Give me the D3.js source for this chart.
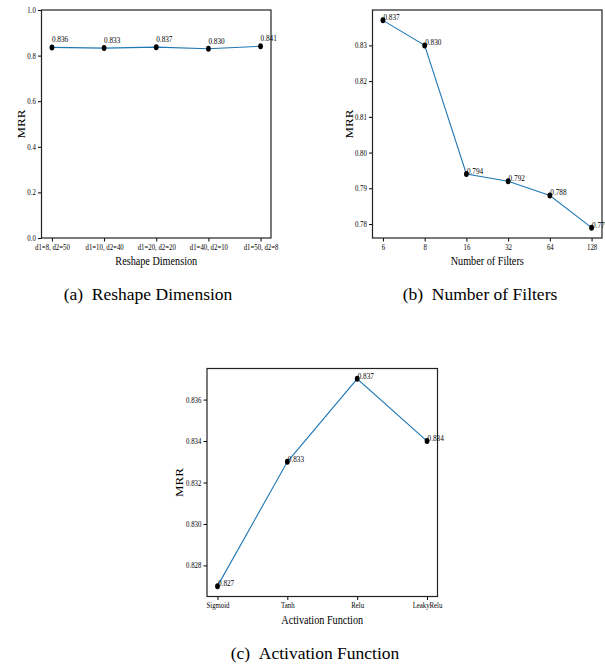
<!DOCTYPE html>
<html>
<head>
<meta charset="utf-8">
<script src="https://cdn.jsdelivr.net/npm/d3@7"></script>
<style>
  body { margin: 0; background: #fff; }
  svg { display: block; }
</style>
</head>
<body>
<div id="container"></div>
<script>
// data
var reshapeCats = ["d1=8, d2=50", "d1=10, d2=40", "d1=20, d2=20", "d1=40, d2=10", "d1=50, d2=8"];
var reshapeMRR = [0.836, 0.833, 0.837, 0.830, 0.841];
var reshapeTicks = [0.0, 0.2, 0.4, 0.6, 0.8, 1.0];

var filterCats = ["6", "8", "16", "32", "64", "128"];
var filterMRR = [0.837, 0.830, 0.794, 0.792, 0.788, 0.779];
var filterTicks = [0.78, 0.79, 0.80, 0.81, 0.82, 0.83];

var actCats = ["Sigmoid", "Tanh", "Relu", "LeakyRelu"];
var actMRR = [0.827, 0.833, 0.837, 0.834];
var actTicks = [0.828, 0.830, 0.832, 0.834, 0.836];

var width = 605, height = 664;
var serif = '"Liberation Serif", "Times New Roman", serif';
var squeeze = 0.85; // the figure is squeezed horizontally

var svg = d3.select("#container")
  .append("svg")
  .attr("width", width)
  .attr("height", height);

// draws one matplotlib-like panel
function drawPanel(opt) {
  var box = opt.box;
  var g = svg.append("g");

  // categorical x with matplotlib's 5% margins
  var n = opt.cats.length;
  var step = (box.right - box.left) / ((n - 1) * 1.1);
  var x = d3.scalePoint()
    .domain(opt.cats)
    .range([box.left + step * (n - 1) * 0.05, box.right - step * (n - 1) * 0.05])
    .padding(0);

  var yDomain = opt.yDomain;
  if (!yDomain) {
    var lo = d3.min(opt.values), hi = d3.max(opt.values), pad = (hi - lo) * 0.05;
    yDomain = [lo - pad, hi + pad];
  }
  var y = d3.scaleLinear().domain(yDomain).range([box.bottom, box.top]);

  // axes
  var xAxis = g.append("g")
    .attr("transform", "translate(0," + box.bottom + ")")
    .call(d3.axisBottom(x).tickSize(3.5).tickPadding(2.5))
    .attr("font-family", serif)
    .attr("font-size", 8)
    .call(function(s) { s.select(".domain").remove(); });
  xAxis.selectAll(".tick text").attr("transform", "scale(" + squeeze + ",1)");

  var yAxis = g.append("g")
    .attr("transform", "translate(" + box.left + ",0)")
    .call(d3.axisLeft(y).tickValues(opt.ticks).tickFormat(d3.format(opt.fmt)).tickSize(3.5).tickPadding(2))
    .attr("font-family", serif)
    .attr("font-size", 8)
    .call(function(s) { s.select(".domain").remove(); });
  yAxis.selectAll(".tick text").attr("transform", "translate(-1,0) scale(" + squeeze + ",1)");

  g.selectAll(".tick line").attr("stroke", "#000").attr("stroke-width", 1);
  g.selectAll(".tick text").attr("fill", "#000");

  // frame
  g.append("rect")
    .attr("x", box.left).attr("y", box.top)
    .attr("width", box.right - box.left).attr("height", box.bottom - box.top)
    .attr("fill", "none").attr("stroke", "#222").attr("stroke-width", 1.2);

  var line = d3.line()
    .x(function(d, i) { return x(opt.cats[i]); })
    .y(function(d) { return y(d); });

  g.append("path")
    .datum(opt.values)
    .attr("d", line)
    .attr("fill", "none")
    .attr("stroke", "#1f77b4")
    .attr("stroke-width", 1.1);

  g.selectAll("ellipse.pt")
    .data(opt.values)
    .enter().append("ellipse")
    .attr("class", "pt")
    .attr("cx", function(d, i) { return x(opt.cats[i]); })
    .attr("cy", function(d) { return y(d); })
    .attr("rx", 2.4).attr("ry", 3)
    .attr("fill", "#000");

  g.selectAll("text.val")
    .data(opt.values)
    .enter().append("text")
    .attr("class", "val")
    .attr("transform", function(d, i) {
      return "translate(" + (x(opt.cats[i]) + opt.labelDx) + "," + (y(d) + opt.labelDy) + ") scale(" + squeeze + ",1)";
    })
    .attr("fill", "#000")
    .style("font-family", serif)
    .style("font-size", "8.5px")
    .text(function(d) { return d3.format(".3f")(d); });

  // axis labels
  g.append("text")
    .attr("transform", "translate(" + ((box.left + box.right) / 2) + "," + (box.bottom + 27) + ") scale(" + squeeze + ",1)")
    .attr("text-anchor", "middle")
    .style("font-family", serif)
    .style("font-size", "12px")
    .text(opt.xlabel);

  g.append("text")
    .attr("transform", "translate(" + (box.left - opt.ylabelOff) + "," + ((box.top + box.bottom) / 2) + ") scale(" + squeeze + ",1) rotate(-90)")
    .attr("text-anchor", "middle")
    .style("font-family", serif)
    .style("font-size", "13px")
    .text("MRR");

  // caption: "(a)" then a wider gap
  g.append("text")
    .attr("x", opt.captionX)
    .attr("y", opt.captionY)
    .attr("text-anchor", "middle")
    .style("font-family", serif)
    .style("font-size", "17.5px")
    .style("white-space", "pre")
    .text(opt.caption[0] + "\u00a0\u00a0" + opt.caption[1]);
}

drawPanel({
  box: {left: 41.5, right: 271, top: 10, bottom: 238},
  cats: reshapeCats, values: reshapeMRR, ticks: reshapeTicks, fmt: ".1f",
  yDomain: [0, 1],
  labelDx: 0, labelDy: -5,
  xlabel: "Reshape Dimension", ylabelOff: 17,
  caption: ["(a)", "Reshape Dimension"], captionX: 148, captionY: 300
});

drawPanel({
  box: {left: 372.5, right: 602, top: 10, bottom: 238},
  cats: filterCats, values: filterMRR, ticks: filterTicks, fmt: ".2f",
  labelDx: 0.5, labelDy: 0,
  xlabel: "Number of Filters", ylabelOff: 20,
  caption: ["(b)", "Number of Filters"], captionX: 480, captionY: 300
});

drawPanel({
  box: {left: 207, right: 437.5, top: 368.5, bottom: 596.5},
  cats: actCats, values: actMRR, ticks: actTicks, fmt: ".3f",
  labelDx: 0.5, labelDy: 0,
  xlabel: "Activation Function", ylabelOff: 24,
  caption: ["(c)", "Activation Function"], captionX: 315, captionY: 659
});
</script>
</body>
</html>
